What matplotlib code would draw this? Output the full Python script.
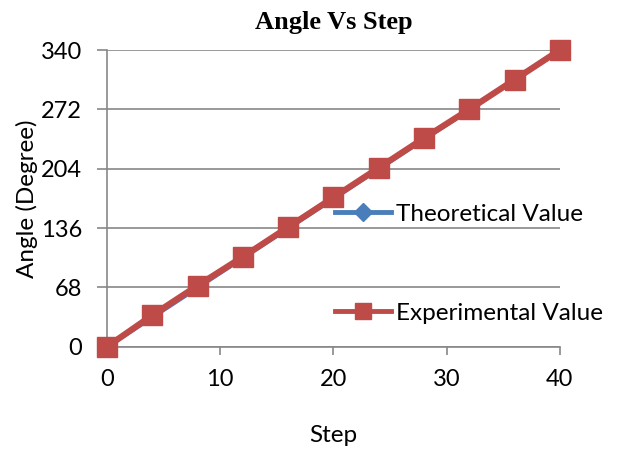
import matplotlib.pyplot as plt
from matplotlib.lines import Line2D

steps = [0, 4, 8, 12, 16, 20, 24, 28, 32, 36, 40]
theoretical = [0, 34, 68, 102, 136, 170, 204, 238, 272, 306, 340]
experimental = [0, 36, 70, 103, 137, 171, 205, 239, 272, 306, 340]
y_ticks = [0, 68, 136, 204, 272, 340]
x_ticks = [0, 10, 20, 30, 40]

blue = "#4a7ebb"
red = "#be4b48"
plt.rcParams['font.family'] = ['Lato', 'DejaVu Sans']

fig = plt.figure(figsize=(6.2, 4.53), dpi=100)
ax = fig.add_axes([0.1726, 0.2347, 0.7304, 0.6549])

ax.plot(steps, theoretical, color=blue, lw=3.5, marker="D", ms=7, zorder=2, clip_on=False)
ax.plot(steps, experimental, color=red, lw=4.5, marker="s", ms=14, zorder=3, clip_on=False)

ax.set_xlim(0, 40)
ax.set_ylim(0, 340)
ax.set_xticks(x_ticks)
ax.set_yticks(y_ticks)
ax.grid(axis="y", color="#878787", lw=1.2)
ax.set_axisbelow(True)
for s in ["top", "right"]:
    ax.spines[s].set_visible(False)
for s in ["left", "bottom"]:
    ax.spines[s].set_color("#878787")
    ax.spines[s].set_linewidth(1.2)
ax.tick_params(axis="y", length=7, width=1.2, color="#878787", labelsize=17, pad=11)
ax.tick_params(axis="x", length=6, width=1.2, color="#878787", labelsize=17, pad=10)

ax.set_title("Angle Vs Step", family="Liberation Serif", fontweight="bold", fontsize=19, pad=15)
ax.set_xlabel("Step", fontsize=17.5, labelpad=25)
ax.set_ylabel("Angle (Degree)", fontsize=17.5, labelpad=2)

handles = [
    Line2D([], [], color=blue, lw=3.5, marker="D", ms=9),
    Line2D([], [], color=red, lw=3.5, marker="s", ms=12),
]
ax.legend(handles, ["Theoretical Value", "Experimental Value"], frameon=False,
          fontsize=17.5, loc="center left", bbox_to_anchor=(0.503, 0.28),
          labelspacing=3.2, handlelength=2.3, handletextpad=0.2, borderaxespad=0,
          borderpad=0)

fig.savefig("out.png", dpi=100)
